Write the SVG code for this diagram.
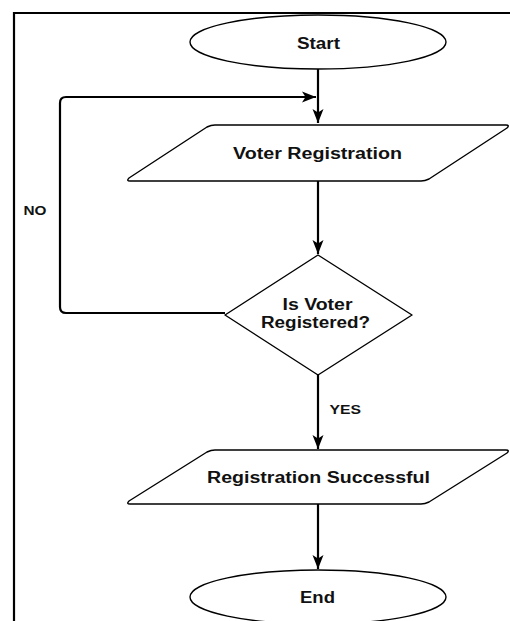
<svg xmlns="http://www.w3.org/2000/svg" width="510" height="621" viewBox="0 0 510 621">
<style>
.shape{fill:#fff;stroke:#000;stroke-width:1.4;stroke-linejoin:round}
.edge{fill:none;stroke:#000;stroke-width:2.2;stroke-linejoin:round}
.lbl{font-family:"Liberation Sans",Arial,sans-serif;font-weight:bold;font-size:16px;fill:#111;text-anchor:middle}
.elbl{font-family:"Liberation Sans",Arial,sans-serif;font-weight:bold;font-size:13.5px;fill:#111}
</style>
<defs>
<marker id="arr" markerUnits="userSpaceOnUse" markerWidth="16" markerHeight="13" refX="14" refY="6" orient="auto">
<path d="M0,0.5 L14,6 L0,11.5 L3.5,6 Z" fill="#000"/>
</marker>
</defs>
<rect width="510" height="621" fill="#fff"/>
<path d="M14,625 L14,13 L515,13" fill="none" stroke="#000" stroke-width="2.2"/>
<g id="connectors">
<path class="edge" d="M318,69 L318,123" marker-end="url(#arr)"/>
<path class="edge" d="M225,313 L66,313 Q60,313 60,307 L60,103 Q60,97 66,97 L316,97" marker-end="url(#arr)"/>
<path class="edge" d="M318,181 L318,254" marker-end="url(#arr)"/>
<path class="edge" d="M318,375 L318,449" marker-end="url(#arr)"/>
<path class="edge" d="M318,504 L318,569" marker-end="url(#arr)"/>
<text class="elbl" x="23.5" y="215" textLength="23" lengthAdjust="spacingAndGlyphs">NO</text>
<text class="elbl" x="329.5" y="413.5" textLength="31.5" lengthAdjust="spacingAndGlyphs">YES</text>
</g>
<g id="start">
<ellipse class="shape" cx="318" cy="42" rx="128" ry="27"/>
<text class="lbl" x="318.5" y="48.5" textLength="43" lengthAdjust="spacingAndGlyphs">Start</text>
</g>
<g id="voter-registration">
<path class="shape" d="M215,125 L506,125 Q510,125 507,128 L429,179 Q425,181 421,181 L130,181 Q126,181 129,178 L207,127 Q211,125 215,125 Z"/>
<text class="lbl" x="317.5" y="158.5" textLength="169" lengthAdjust="spacingAndGlyphs">Voter Registration</text>
</g>
<g id="is-registered">
<path class="shape" d="M318,255 L412,315 L318,375 L225,315 Z"/>
<text class="lbl" x="317.5" y="309.5" textLength="70" lengthAdjust="spacingAndGlyphs">Is Voter</text>
<text class="lbl" x="315.5" y="328" textLength="109" lengthAdjust="spacingAndGlyphs">Registered?</text>
</g>
<g id="registration-successful">
<path class="shape" d="M215,450 L506,450 Q510,450 507,453 L429,502 Q425,504 421,504 L130,504 Q126,504 129,501 L207,452 Q211,450 215,450 Z"/>
<text class="lbl" x="318.5" y="483" textLength="223" lengthAdjust="spacingAndGlyphs">Registration Successful</text>
</g>
<g id="end">
<ellipse class="shape" cx="318" cy="597" rx="128" ry="27"/>
<text class="lbl" x="317.5" y="603" textLength="35" lengthAdjust="spacingAndGlyphs">End</text>
</g>
</svg>
